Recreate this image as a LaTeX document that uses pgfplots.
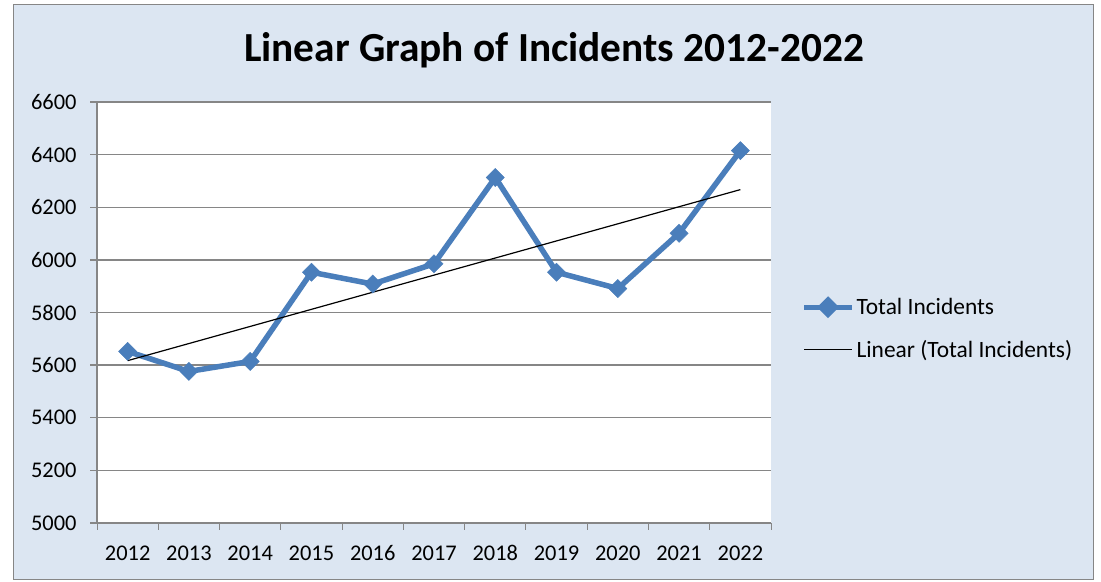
\documentclass[border=0pt]{standalone}
\usepackage{fontspec}
\setmainfont{Carlito}
\usepackage{pgfplots}
\pgfplotsset{compat=1.18}
\definecolor{bgblue}{HTML}{DCE6F2}
\definecolor{serblue}{HTML}{4A7EBB}
\definecolor{gridgray}{HTML}{868686}
\begin{document}
\begin{tikzpicture}[x=1bp,y=1bp]
\path[use as bounding box] (0,0) rectangle (1101,582);
\draw[fill=bgblue, draw=gridgray, line width=1bp] (13,2) rectangle (1093,577);
\node[anchor=base, font=\fontsize{41.5}{46}\selectfont\bfseries] at (554,520) {Linear Graph of Incidents 2012-2022};
\begin{axis}[
  at={(97bp,59bp)}, anchor=south west,
  scale only axis, width=674bp, height=421bp,
  xmin=-0.5, xmax=10.5, ymin=5000, ymax=6600,
  ytick={5000,5200,...,6600},
  xtick={0,...,10},
  xticklabels={2012,2013,2014,2015,2016,2017,2018,2019,2020,2021,2022},
  minor xtick={-0.5,0.5,...,10.5},
  major x tick style={draw=none},
  minor x tick style={draw=gridgray, line width=1bp},
  axis x line=bottom, axis y line=left,
  axis line style={draw=gridgray, line width=1.3bp, -},
  tick align=outside,
  major tick length=7bp, minor tick length=7bp,
  ytick style={draw=gridgray, line width=1.3bp},
  ymajorgrids, major grid style={draw=gridgray, line width=1.3bp},
  axis background/.style={fill=white},
  tick label style={font=\fontsize{22.5}{26}\selectfont, black},
  /pgf/number format/.cd, 1000 sep={}, assume math mode=true, /pgfplots/.cd,
  xticklabel style={yshift=-12bp},
  yticklabel style={xshift=-10bp},
  legend style={at={(1.045,0.462)}, anchor=west, draw=none, fill=none,
    font=\fontsize{23.5}{27}\selectfont, row sep=20bp, inner sep=0pt,
    nodes={inner sep=2bp}},
  legend cell align=left,
  legend image code/.code={\draw[#1] (0bp,0bp) -- (48bp,0bp);},
  clip=false,
]
\addplot[serblue, line width=5.5bp, mark=square*, mark size=6.4bp,
  mark options={solid, fill=serblue, line width=0.5bp, rotate=45},
  legend image code/.code={\draw[serblue, line width=5bp] (0bp,0bp) -- (48bp,0bp);
    \fill[serblue] (24bp,-7bp) -- (31bp,0bp) -- (24bp,7bp) -- (17bp,0bp) -- cycle;}]
  coordinates {(0,5652) (1,5576) (2,5614) (3,5953) (4,5908) (5,5985) (6,6313) (7,5953) (8,5891) (9,6101) (10,6415)};
\addlegendentry{Total Incidents}
\addplot[black, line width=1.2bp] coordinates {(0,5617) (10,6267)};
\addlegendentry{Linear (Total Incidents)}
\end{axis}
\end{tikzpicture}
\end{document}
